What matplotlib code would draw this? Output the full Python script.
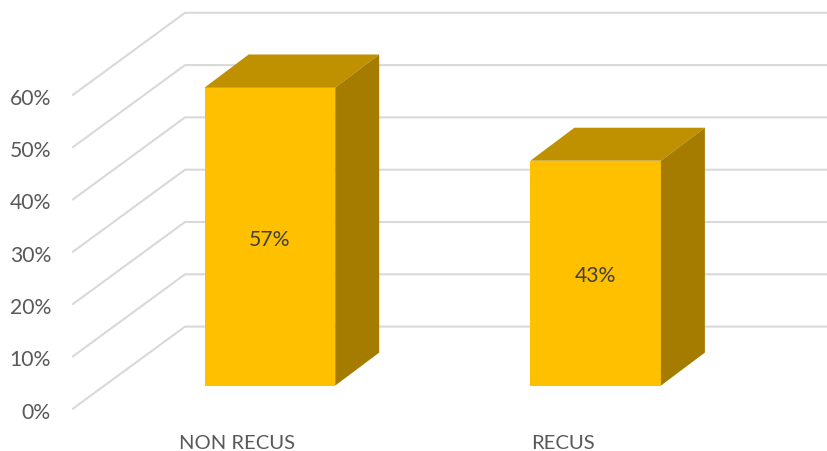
import matplotlib
matplotlib.use('Agg')
import matplotlib.pyplot as plt
from matplotlib.patches import Polygon

categories = ['NON RECUS', 'RECUS']
values = [57, 43]
value_labels = ['57%', '43%']
ticks = [0, 10, 20, 30, 40, 50, 60]
tick_labels = ['0%', '10%', '20%', '30%', '40%', '50%', '60%']

plt.rcParams['font.family'] = ['Lato', 'DejaVu Sans']

W, H = 828, 452
PX = 5.23          # pixels per percent point
BASE = 386.6       # pixel row of the bar base
fig = plt.figure(figsize=(W / 100, H / 100), dpi=100)
ax = fig.add_axes([0, 0, 1, 1])
ax.set_xlim(0, W)
ax.set_ylim((BASE - H) / PX, BASE / PX)
ax.axis('off')

# wall and floor lines
grid_col = '#D9D9D9'
for t in ticks:
    ax.plot([73, 185, 828], [t - 23 / PX, t + 59 / PX, t + 59 / PX], color=grid_col, lw=1.5,
            solid_joinstyle='miter', zorder=1)

# bars with fake depth
bar_left = [204.7, 530.4]
bar_w = 130.5
dx, dy = 44, 33 / PX
for left, v, lab in zip(bar_left, values, value_labels):
    right = left + bar_w
    ax.bar(left, v, width=bar_w, align='edge', color='#FFC000', zorder=3)
    ax.add_patch(Polygon([(left, v), (right, v), (right + dx, v + dy), (left + dx, v + dy)],
                         closed=True, color='#BF9000', lw=0, zorder=3))
    ax.add_patch(Polygon([(right, 0), (right + dx, dy), (right + dx, v + dy), (right, v)],
                         closed=True, color='#A67C00', lw=0, zorder=3))
    ax.text(left + bar_w / 2, v / 2 - 0.4, lab, ha='center', va='center', fontsize=15.2,
            color='#404040', zorder=4)

for t, lab in zip(ticks, tick_labels):
    ax.text(51, t - 26 / PX, lab, ha='right', va='center', fontsize=15.2, color='#595959')

for cat, cx in zip(categories, [237, 563]):
    ax.text(cx, (BASE - 443.5) / PX, cat, ha='center', va='center', fontsize=14.6, color='#595959')

fig.savefig('out.png', dpi=100)
